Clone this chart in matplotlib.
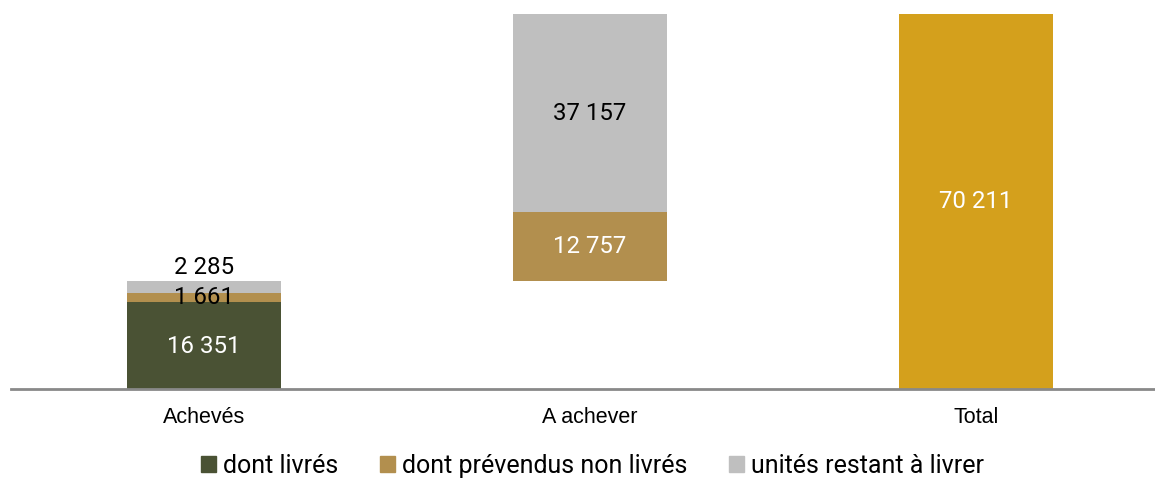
import matplotlib.pyplot as plt
from matplotlib.patches import Patch

# data
categories = ["Achevés", "A achever", "Total"]
livres = [16351, 0, 0]
prevendus = [1661, 12757, 0]
restant = [2285, 37157, 0]
total = [0, 0, 70211]
series_names = ["dont livrés", "dont prévendus non livrés", "unités restant à livrer"]

c_green = "#4a5234"
c_tan = "#b28f4e"
c_grey = "#bfbfbf"
c_gold = "#d4a01c"

fig = plt.figure(figsize=(11.55, 4.79), dpi=100)
ax = fig.add_axes([11 / 1155, 1 - 389 / 479, 1144 / 1155, 389 / 479])

x = list(range(len(categories)))
w = 0.4

# waterfall: second column starts where the first ends
base = [0, livres[0] + prevendus[0] + restant[0], 0]
ax.bar(x, livres, w, bottom=base, color=c_green)
bot2 = [base[i] + livres[i] for i in x]
ax.bar(x, prevendus, w, bottom=bot2, color=c_tan)
bot3 = [bot2[i] + prevendus[i] for i in x]
ax.bar(x, restant, w, bottom=bot3, color=c_grey)
ax.bar(x, total, w, color=c_gold)

def fmt(v):
    return f"{v:,}".replace(",", " ")

lab_font = dict(family="Roboto", fontsize=17.3)

# Achevés
ax.text(0, livres[0] / 2 - 300, fmt(livres[0]), ha="center", va="center", color="white", **lab_font)
ax.text(0, bot2[0] + prevendus[0] / 2, fmt(prevendus[0]), ha="center", va="center", color="black", **lab_font)
ax.text(0, bot3[0] + restant[0] + 300, fmt(restant[0]), ha="center", va="bottom", color="black", **lab_font)
# A achever
ax.text(1, bot2[1] + prevendus[1] / 2, fmt(prevendus[1]), ha="center", va="center", color="white", **lab_font)
ax.text(1, bot3[1] + restant[1] / 2, fmt(restant[1]), ha="center", va="center", color="black", **lab_font)
# Total
ax.text(2, total[2] / 2, fmt(total[2]), ha="center", va="center", color="white", **lab_font)

ax.set_xlim(-0.5, 1144 / 386 - 0.5)
ax.set_ylim(0, 70211 * 389 / 375)
ax.set_xticks(x)
ax.set_xticklabels(categories, family="Liberation Sans", fontsize=15.5)
ax.tick_params(axis="x", length=0, pad=13)
ax.set_yticks([])
for s in ["top", "right", "left"]:
    ax.spines[s].set_visible(False)
ax.spines["bottom"].set_color("#898989")
ax.spines["bottom"].set_linewidth(2)

handles = [Patch(color=c) for c in (c_green, c_tan, c_grey)]
fig.legend(handles, series_names, loc="center", bbox_to_anchor=(0.513, 1 - 466 / 479),
           ncol=3, frameon=False, prop={"family": "Roboto", "size": 18},
           handlelength=0.6, handleheight=0.6, handletextpad=0.25, columnspacing=1.7)

fig.savefig("out.png", dpi=100)
